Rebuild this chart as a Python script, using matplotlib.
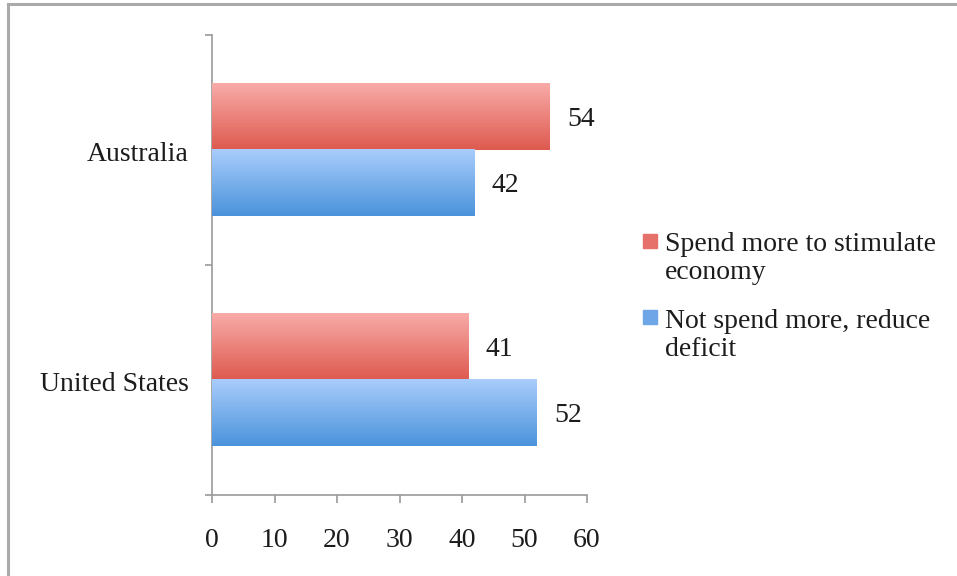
import matplotlib
matplotlib.use("Agg")
import matplotlib.pyplot as plt
import numpy as np
from matplotlib.lines import Line2D
from matplotlib.patches import Rectangle
from matplotlib.colors import LinearSegmentedColormap

plt.rcParams['font.family'] = ['Liberation Serif', 'DejaVu Serif']

categories = ["United States", "Australia"]
series_names = ["Spend more to stimulate\neconomy", "Not spend more, reduce\ndeficit"]
spend_more = [41, 54]
not_spend = [52, 42]
x_ticks = [0, 10, 20, 30, 40, 50, 60]

red_top, red_bot = "#f8aba8", "#de5a4f"
blue_top, blue_bot = "#a9cdfc", "#4b93db"
legend_colors = ["#e6706a", "#6fa6e8"]
FS = 20
TXT = "#1c1c1c"

fig = plt.figure(figsize=(9.57, 5.76), dpi=100)
ax = fig.add_axes([212/957, 1-495/576, (587-212)/957, (495-35)/576])

y = np.arange(len(categories))
h = 0.287
bars_r = ax.barh(y + h/2, spend_more, height=h, color=red_bot, zorder=2)
bars_b = ax.barh(y - h/2, not_spend, height=h, color=blue_bot, zorder=2)

def gradient(bars, top, bot):
    cmap = LinearSegmentedColormap.from_list("g", [bot, top])
    grad = np.linspace(0, 1, 100).reshape(-1, 1)
    for b in bars:
        x0, y0 = b.get_x(), b.get_y()
        w, hh = b.get_width(), b.get_height()
        ax.imshow(grad, extent=[x0, x0 + w, y0, y0 + hh], origin="lower",
                  cmap=cmap, aspect="auto", zorder=3, interpolation="bilinear")

gradient(bars_r, red_top, red_bot)
gradient(bars_b, blue_top, blue_bot)

for b in list(bars_r) + list(bars_b):
    ax.text(b.get_width() + 2.8, b.get_y() + b.get_height()/2 - 0.01, f"{int(b.get_width())}",
            va="center", ha="left", fontsize=FS, color=TXT)

ax.set_xlim(0, 60)
ax.set_ylim(-0.5, 1.5)
ax.set_xticks(x_ticks)
ax.set_xticklabels([str(t) for t in x_ticks], fontsize=FS, color=TXT)
ax.set_yticks([-0.5, 0.5, 1.5])
ax.set_yticklabels([])
ax.set_yticks(y - 0.008, minor=True)
ax.set_yticklabels(categories, minor=True, fontsize=FS, color=TXT)
ax.tick_params(axis="y", which="minor", length=0, pad=17)
ax.tick_params(axis="y", which="major", length=5, color="#999999", width=1.2)
ax.tick_params(axis="x", length=6, color="#999999", width=1.2, pad=18)

for s in ["top", "right"]:
    ax.spines[s].set_visible(False)
for s in ["left", "bottom"]:
    ax.spines[s].set_color("#999999")
    ax.spines[s].set_linewidth(1.2)

# legend
sq_tops = [234, 310]
txt_tops = [232, 309]
for name, col, st, tt in zip(series_names, legend_colors, sq_tops, txt_tops):
    fig.add_artist(Rectangle((643/957, 1-(st+14)/576), 14/957, 14/576, color=col,
                             transform=fig.transFigure))
    fig.text(665/957, 1-tt/576, name, ha="left", va="top", fontsize=FS,
             color=TXT, linespacing=1.14)

fig.add_artist(Line2D([8/957, 8/957], [0, 1-4/576], color="#aaaaaa", lw=2.2, transform=fig.transFigure))
fig.add_artist(Line2D([8/957, 1], [1-4/576, 1-4/576], color="#aaaaaa", lw=2.2, transform=fig.transFigure))

fig.savefig("out.png", dpi=100)
